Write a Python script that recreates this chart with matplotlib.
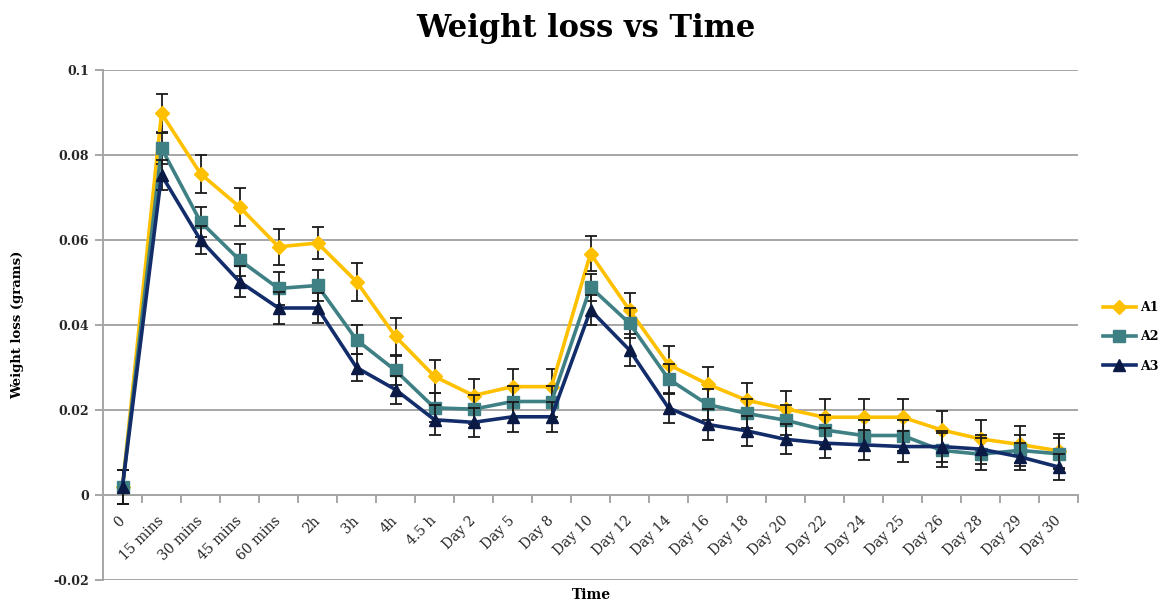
import numpy as np
import matplotlib
matplotlib.use("Agg")
import matplotlib.pyplot as plt

# Sampling times (categorical axis)
times = ["0", "15 mins", "30 mins", "45 mins", "60 mins", "2h", "3h", "4h", "4.5 h",
         "Day 2", "Day 5", "Day 8", "Day 10", "Day 12", "Day 14", "Day 16", "Day 18",
         "Day 20", "Day 22", "Day 24", "Day 25", "Day 26", "Day 28", "Day 29", "Day 30"]

# Mean weight loss (grams) per sample
a1 = [0.002, 0.0898, 0.0756, 0.0678, 0.0584, 0.0593, 0.0502, 0.0373, 0.0279,
      0.0234, 0.0255, 0.0255, 0.0568, 0.0435, 0.0307, 0.0261, 0.0223, 0.0203,
      0.0183, 0.0183, 0.0183, 0.0153, 0.0132, 0.0119, 0.0104]
a2 = [0.002, 0.0816, 0.0643, 0.0553, 0.0486, 0.0493, 0.0365, 0.0293, 0.0205,
      0.0202, 0.0220, 0.0220, 0.0489, 0.0404, 0.0273, 0.0213, 0.0192, 0.0176,
      0.0153, 0.0140, 0.0140, 0.0105, 0.0096, 0.0105, 0.0097]
a3 = [0.002, 0.0753, 0.0600, 0.0502, 0.0440, 0.0440, 0.0300, 0.0248, 0.0177,
      0.0171, 0.0184, 0.0184, 0.0435, 0.0341, 0.0205, 0.0166, 0.0151, 0.0131,
      0.0122, 0.0118, 0.0114, 0.0114, 0.0108, 0.0090, 0.0066]

# Standard deviations
a1_err = [0.004, 0.0045, 0.0045, 0.0044, 0.0042, 0.0038, 0.0045, 0.0043, 0.0039,
          0.004, 0.0042, 0.0042, 0.0041, 0.0041, 0.0043, 0.0041, 0.0040, 0.0041,
          0.0043, 0.0043, 0.0044, 0.0045, 0.0044, 0.0043, 0.0040]
a2_err = [0.004, 0.0036, 0.0035, 0.0037, 0.0038, 0.0036, 0.0034, 0.0035, 0.0034,
          0.0034, 0.0036, 0.0036, 0.0032, 0.0035, 0.0036, 0.0036, 0.0035, 0.0035,
          0.0036, 0.0036, 0.0036, 0.0040, 0.0038, 0.0036, 0.0036]
a3_err = [0.004, 0.0035, 0.0033, 0.0036, 0.0038, 0.0036, 0.0032, 0.0033, 0.0035,
          0.0034, 0.0036, 0.0035, 0.0036, 0.0038, 0.0036, 0.0036, 0.0036, 0.0035,
          0.0036, 0.0036, 0.0036, 0.0036, 0.0034, 0.0032, 0.0030]

series = [
    ("A1", a1, a1_err, "#FFC000", "D", "#FFC000", 7),
    ("A2", a2, a2_err, "#3E8084", "s", "#3E8084", 9),
    ("A3", a3, a3_err, "#132D6B", "^", "#0A1A45", 8),
]

plt.rcParams["font.family"] = ["DejaVu Serif"]
grid_c = "#A6A6A6"
text_c = "#262626"

fig = plt.figure(figsize=(11.72, 6.03), dpi=100)
ax = fig.add_axes([103 / 1172, 1 - 580 / 603, (1078 - 103) / 1172, (580 - 70) / 603])

# spines first: moving a spine resets its axis ticks
for s in ["top", "right"]:
    ax.spines[s].set_visible(False)
ax.spines["left"].set_color(grid_c)
ax.spines["left"].set_linewidth(1.4)
ax.spines["bottom"].set_position(("data", 0))
ax.spines["bottom"].set_color(grid_c)
ax.spines["bottom"].set_linewidth(1.4)

x = np.arange(len(times))
handles = []
for z, (name, vals, err, col, mk, mcol, ms) in enumerate(series):
    ax.errorbar(x, vals, yerr=err, fmt="none", ecolor="#1a1a1a", elinewidth=1.3,
                capsize=4, capthick=1.3, zorder=3 + z * 2)
    h, = ax.plot(x, vals, color=col, lw=2.6, marker=mk, markersize=ms,
                 markerfacecolor=mcol, markeredgecolor=mcol, zorder=4 + z * 2,
                 label=name)
    handles.append(h)

ax.set_xlim(-0.5, len(times) - 0.5)
ax.set_ylim(-0.02, 0.1)
yt = [-0.02, 0, 0.02, 0.04, 0.06, 0.08, 0.1]
ax.set_yticks(yt)
ax.set_yticklabels(["-0.02", "0", "0.02", "0.04", "0.06", "0.08", "0.1"],
                   fontsize=9, fontweight="bold", color=text_c)
ax.yaxis.grid(True, color=grid_c, lw=1.4)
ax.set_axisbelow(True)

# category boundaries carry the tick marks, centres carry the labels
ax.set_xticks(np.arange(-0.5, len(times), 1.0))
ax.set_xticklabels([])
ax.set_xticks(x, minor=True)
ax.set_xticklabels(times, minor=True, rotation=45, ha="right", va="center",
                   rotation_mode="anchor", fontsize=10, color=text_c)
ax.tick_params(axis="x", which="major", direction="out", length=6, width=1.4,
               color=grid_c)
ax.tick_params(axis="x", which="minor", length=0, pad=17)
ax.tick_params(axis="y", direction="out", length=6, width=1.4, color=grid_c, pad=4)

fig.text(586 / 1172, 1 - 28 / 603, "Weight loss vs Time", ha="center", va="center",
         fontsize=22, fontweight="bold", color="black")
fig.text(18 / 1172, 1 - 325 / 603, "Weight loss (grams)", ha="center", va="center",
         rotation=90, fontsize=9.5, fontweight="bold", color="black")
fig.text(591 / 1172, 1 - 595 / 603, "Time", ha="center", va="center",
         fontsize=10, fontweight="bold", color="black")

fig.legend(handles=handles, loc="center left", bbox_to_anchor=(1103 / 1172, 1 - 337 / 603),
           frameon=False, handlelength=2.6, handletextpad=0.4, labelspacing=1.3,
           borderpad=0, borderaxespad=0, prop={"weight": "bold", "size": 9})

fig.savefig("out.png", dpi=100)
